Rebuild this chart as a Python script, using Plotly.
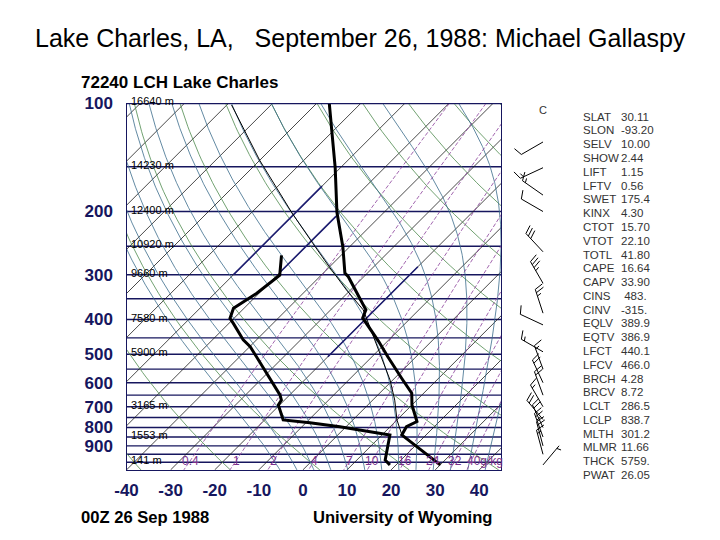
import numpy as np
import plotly.graph_objects as go

# ---------------- data ----------------
temp_p = [100, 151, 201, 251, 297, 304, 376, 396, 460, 508, 583, 642, 692, 770, 796, 839, 1017]
temp_t = [-77.1, -61.2, -50.7, -41.5, -35.1, -33.5, -22.0, -20.9, -12.0, -6.4, 1.6, 7.3, 10.0, 14.9, 13.7, 14.5, 30.0]

dwpt_p = [265, 301, 338, 372, 397, 410, 456, 476, 649, 671, 692, 762, 776, 796, 839, 985, 1017]
dwpt_t = [-53.5, -49.4, -50.5, -52.4, -50.9, -49.0, -43.0, -39.9, -22.2, -20.7, -20.3, -15.8, -9.1, -1.4, 11.8, 16.4, 18.6]

parcel_p = [1017, 842, 762, 671, 590, 481, 376, 331, 286, 245, 202, 171, 144, 101]
parcel_t = [30.0, 14.7, 10.0, 5.0, -0.6, -10.5, -22.6, -30.9, -39.9, -49.2, -60.7, -70.2, -80.0, -98.9]

height_p = [100, 150, 200, 250, 300, 400, 500, 700, 850, 1000]
height_lbl = ["16640 m", "14230 m", "12400 m", "10920 m", "9660 m", "7580 m",
              "5900 m", "3165 m", "1553 m", "141 m"]

wind_p = [128, 151, 180, 200, 259, 317, 384, 414, 492, 550, 600, 650, 700, 760, 800, 850, 900, 950, 1017]
wind_dir = [240, 245, 305, 300, 317, 330, 342, 295, 300, 340, 335, 340, 330, 320, 335, 340, 345, 345, 40]
wind_kt = [10, 15, 15, 10, 30, 35, 25, 10, 15, 15, 20, 20, 15, 20, 20, 25, 20, 15, 5]
calm_p = 104

stat_names = ["SLAT", "SLON", "SELV", "SHOW", "LIFT", "LFTV", "SWET", "KINX", "CTOT",
              "VTOT", "TOTL", "CAPE", "CAPV", "CINS", "CINV", "EQLV", "EQTV", "LFCT",
              "LFCV", "BRCH", "BRCV", "LCLT", "LCLP", "MLTH", "MLMR", "THCK", "PWAT"]
stat_values = ["30.11", "-93.20", "10.00", "2.44", "1.15", "0.56", "175.4", "4.30", "15.70",
               "22.10", "41.80", "16.64", "33.90", "\u00a0483.", "-315.", "389.9", "386.9", "440.1",
               "466.0", "4.28", "8.72", "286.5", "838.7", "301.2", "11.66", "5759.", "26.05"]

isobar_levels = list(range(100, 1001, 50))
isotherm_levels = list(range(-120, 51, 10))
# highlighted (dark blue) isotherm pieces: temperature, upper and lower pressure
hl_iso_t = [-20, -50, -60]
hl_iso_ptop = [285, 206, 170]
hl_iso_pbot = [508, 294, 300]
theta_levels_c = list(range(-40, 201, 20))
moist_levels_c = list(range(-8, 41, 4))
mixr_levels = [0.4, 1, 2, 4, 7, 10, 16, 24, 32, 40]
mixr_labels = ["0.4", "1", "2", "4", "7", "10", "16", "24", "32", "40g/kg"]
p_tick_vals = [100, 200, 300, 400, 500, 600, 700, 800, 900]
t_tick_vals = [-40, -30, -20, -10, 0, 10, 20, 30, 40]

# ---------------- geometry / style constants ----------------
W, H = 720, 540
X_L_PX, X_R_PX = 126.5, 501.0
Y_T_PX, Y_B_PX = 103.5, 469.9
P_TOP, P_BOT = 100.0, 1050.0
PX_PER_DEG = 4.41
PX_PER_DEC = (Y_B_PX - Y_T_PX) / np.log10(P_BOT / P_TOP)
K = PX_PER_DEC / PX_PER_DEG          # 45-degree skew
X_MIN = -40.0
X_MAX = X_MIN + (X_R_PX - X_L_PX) / PX_PER_DEG

NAVY = "#16165e"
FONT = "Liberation Sans, Arial, sans-serif"


def skew(t, p):
    return np.asarray(t, float) + K * np.log10(P_BOT / np.asarray(p, float))


def py_to_p(py):
    return P_TOP * 10 ** ((np.asarray(py, float) - Y_T_PX) / PX_PER_DEC)


def p_to_py(p):
    return Y_T_PX + PX_PER_DEC * np.log10(np.asarray(p, float) / P_TOP)


def es(tc):
    return 6.112 * np.exp(17.67 * tc / (tc + 243.5))


def td_from_w(w, p):
    e = w * p / (622.0 + w)
    lnr = np.log(e / 6.112)
    return 243.5 * lnr / (17.67 - lnr)


def moist_adiabat(t1000, plist):
    Rd, Cp, Lv, eps = 287.04, 1005.7, 2.501e6, 0.622

    def dtdlnp(T, p):
        tc = T - 273.15
        e = es(tc)
        rs = eps * e / (p - e)
        return (Rd * T + Lv * rs) / (Cp + Lv * Lv * rs * eps / (Rd * T * T))

    out = {}
    for direction in (-1, 1):
        T = t1000 + 273.15
        lnp = np.log(1000.0)
        target = np.log(plist.min()) if direction < 0 else np.log(plist.max())
        n = 300
        h = (target - lnp) / n
        pts = [(1000.0, T)]
        for _ in range(n):
            p = np.exp(lnp)
            k1 = dtdlnp(T, p)
            k2 = dtdlnp(T + 0.5 * h * k1, np.exp(lnp + 0.5 * h))
            k3 = dtdlnp(T + 0.5 * h * k2, np.exp(lnp + 0.5 * h))
            k4 = dtdlnp(T + h * k3, np.exp(lnp + h))
            T = T + h / 6 * (k1 + 2 * k2 + 2 * k3 + k4)
            lnp += h
            pts.append((np.exp(lnp), T))
        out[direction] = pts
    pts = out[-1][::-1] + out[1][1:]
    ps = np.array([a for a, b in pts])
    ts = np.array([b for a, b in pts]) - 273.15
    return ps, ts


def joined(lines):
    xs, ys = [], []
    for x, y in lines:
        xs += list(x) + [None]
        ys += list(y) + [None]
    return xs, ys


fig = go.Figure()
pgrid = np.geomspace(P_TOP, P_BOT, 80)

# isobars
xs, ys = joined([([X_MIN - 5, X_MAX + 5], [p, p]) for p in isobar_levels])
fig.add_trace(go.Scatter(x=xs, y=ys, mode="lines", line=dict(color=NAVY, width=1.4), hoverinfo="skip"))

# isotherms
xs, ys = joined([(skew([t, t], [P_TOP, P_BOT]), [P_TOP, P_BOT]) for t in isotherm_levels])
fig.add_trace(go.Scatter(x=xs, y=ys, mode="lines", line=dict(color="#1a1a1a", width=0.8), hoverinfo="skip"))

# dry adiabats
lines = []
for th in theta_levels_c:
    t = (th + 273.15) * (pgrid / 1000.0) ** 0.2857 - 273.15
    lines.append((skew(t, pgrid), pgrid))
xs, ys = joined(lines)
fig.add_trace(go.Scatter(x=xs, y=ys, mode="lines", line=dict(color="#4e8a4e", width=0.8), hoverinfo="skip"))

# moist adiabats
lines = []
for tw in moist_levels_c:
    ps, ts = moist_adiabat(tw, pgrid)
    lines.append((skew(ts, ps), ps))
xs, ys = joined(lines)
fig.add_trace(go.Scatter(x=xs, y=ys, mode="lines", line=dict(color="#3b6c8c", width=0.8), hoverinfo="skip"))

# mixing ratio lines
lines = []
for w in mixr_levels:
    lines.append((skew(td_from_w(w, pgrid), pgrid), pgrid))
xs, ys = joined(lines)
fig.add_trace(go.Scatter(x=xs, y=ys, mode="lines",
                         line=dict(color="#8a3f9a", width=0.8, dash="4px,2px"), hoverinfo="skip"))

# highlighted isotherm pieces
xs, ys = joined([(skew([t, t], [pt, pb]), [pt, pb]) for t, pt, pb in zip(hl_iso_t, hl_iso_ptop, hl_iso_pbot)])
fig.add_trace(go.Scatter(x=xs, y=ys, mode="lines", line=dict(color="#1c1c70", width=1.6), hoverinfo="skip"))

# parcel, temperature, dew point
fig.add_trace(go.Scatter(x=skew(parcel_t, parcel_p), y=parcel_p, mode="lines",
                         line=dict(color="black", width=1), hoverinfo="skip"))
fig.add_trace(go.Scatter(x=skew(temp_t, temp_p), y=temp_p, mode="lines",
                         line=dict(color="black", width=3), hoverinfo="skip"))
fig.add_trace(go.Scatter(x=skew(dwpt_t, dwpt_p), y=dwpt_p, mode="lines",
                         line=dict(color="black", width=3), hoverinfo="skip"))

# wind barbs (pixel geometry on an overlay x axis, pressure on the main y axis)
BASE_X = 543.0
STAFF = 25.0
bx, by = [], []
rot = np.radians(70)
for p, d, s in zip(wind_p, wind_dir, wind_kt):
    x0, y0 = BASE_X, float(p_to_py(p))
    ux, uy = np.sin(np.radians(d)), -np.cos(np.radians(d))
    fx = ux * np.cos(rot) - uy * np.sin(rot)
    fy = ux * np.sin(rot) + uy * np.cos(rot)
    tx, ty = x0 + STAFF * ux, y0 + STAFF * uy
    bx += [x0, tx, None]
    by += [y0, ty, None]
    rem = int(round(s / 5.0)) * 5
    pos = 0.0
    while rem >= 50:
        ax, ay = tx - pos * ux, ty - pos * uy
        cx, cy = tx - (pos + 6) * ux, ty - (pos + 6) * uy
        bx += [ax, ax + 9 * fx, cx, None]
        by += [ay, ay + 9 * fy, cy, None]
        pos += 7
        rem -= 50
    while rem >= 10:
        ax, ay = tx - pos * ux, ty - pos * uy
        bx += [ax, ax + 9 * fx, None]
        by += [ay, ay + 9 * fy, None]
        pos += 3.5
        rem -= 10
    if rem >= 5:
        if pos == 0:
            pos = 3.5
        ax, ay = tx - pos * ux, ty - pos * uy
        bx += [ax, ax + 4.5 * fx, None]
        by += [ay, ay + 4.5 * fy, None]
by_p = [None if v is None else float(py_to_p(v)) for v in by]
fig.add_trace(go.Scatter(x=bx, y=by_p, xaxis="x2", yaxis="y", mode="lines",
                         line=dict(color="black", width=1), hoverinfo="skip"))

ann = []
# calm marker
ann.append(dict(x=BASE_X, y=np.log10(calm_p), xref="x2", yref="y", text="C", showarrow=False,
                font=dict(family=FONT, size=11, color="#333333")))
# height labels
for p, t in zip(height_p, height_lbl):
    ann.append(dict(x=(X_L_PX + 2.5) / W, y=np.log10(p), xref="paper", yref="y", text=t,
                    showarrow=False, xanchor="left", yanchor="middle", yshift=2,
                    font=dict(family=FONT, size=11, color="black")))
# mixing-ratio labels
for w, t in zip(mixr_levels, mixr_labels):
    lp = 990.0
    xv = float(skew(td_from_w(w, lp), lp))
    ann.append(dict(x=xv, y=np.log10(lp), xref="x", yref="y", text=t, showarrow=False,
                    xanchor="center" if w < 40 else "left", xshift=0 if w < 40 else -6,
                    font=dict(family=FONT, size=12, color="#7a2f8c")))
# stats
for i, (n, v) in enumerate(zip(stat_names, stat_values)):
    yy = 116.7 + i * 13.78
    ann.append(dict(x=581 / W, y=1 - yy / H, xref="paper", yref="paper", text=n, showarrow=False,
                    xanchor="left", yanchor="middle", font=dict(family=FONT, size=11.5, color="#333333")))
    ann.append(dict(x=619 / W, y=1 - yy / H, xref="paper", yref="paper", text=v, showarrow=False,
                    xanchor="left", yanchor="middle", font=dict(family=FONT, size=11.5, color="#333333")))
# titles
ann.append(dict(x=360.5 / W, y=1 - 38 / H, xref="paper", yref="paper",
                text="Lake Charles, LA,   September 26, 1988: Michael Gallaspy", showarrow=False,
                xanchor="center", yanchor="middle", font=dict(family=FONT, size=25, color="black")))
ann.append(dict(x=79 / W, y=1 - 82 / H, xref="paper", yref="paper", text="<b>72240 LCH Lake Charles</b>",
                showarrow=False, xanchor="left", yanchor="middle", font=dict(family=FONT, size=17, color="black")))
ann.append(dict(x=79 / W, y=1 - 517 / H, xref="paper", yref="paper", text="<b>00Z 26 Sep 1988</b>",
                showarrow=False, xanchor="left", yanchor="middle", font=dict(family=FONT, size=16.6, color="black")))
ann.append(dict(x=311 / W, y=1 - 517 / H, xref="paper", yref="paper", text="<b>University of Wyoming</b>",
                showarrow=False, xanchor="left", yanchor="middle", font=dict(family=FONT, size=16.6, color="black")))

fig.update_layout(
    width=W, height=H,
    margin=dict(l=0, r=0, t=0, b=0, autoexpand=False),
    paper_bgcolor="white", plot_bgcolor="rgba(0,0,0,0)",
    showlegend=False,
    xaxis=dict(domain=[X_L_PX / W, X_R_PX / W], range=[X_MIN, X_MAX], automargin=False,
               showgrid=False, zeroline=False, showline=True, mirror=True,
               linecolor=NAVY, linewidth=1.3, ticks="",
               tickvals=t_tick_vals, ticktext=[str(v) for v in t_tick_vals],
               tickfont=dict(family=FONT, size=17, color=NAVY, weight="bold"), ticklabelstandoff=5),
    yaxis=dict(type="log", domain=[1 - Y_B_PX / H, 1 - Y_T_PX / H], automargin=False,
               range=[np.log10(P_BOT), np.log10(P_TOP)],
               showgrid=False, zeroline=False, showline=True, mirror=True,
               linecolor=NAVY, linewidth=1.3, ticks="",
               tickvals=p_tick_vals, ticktext=[str(v) for v in p_tick_vals],
               tickfont=dict(family=FONT, size=17, color=NAVY, weight="bold"), ticklabelstandoff=9),
    xaxis2=dict(domain=[0, 1], range=[0, W], visible=False, anchor="y", automargin=False),
    annotations=ann,
)

fig.write_html("out.html", config={"displayModeBar": False},
               post_script="document.body.style.margin='0';document.body.style.overflow='hidden';")
